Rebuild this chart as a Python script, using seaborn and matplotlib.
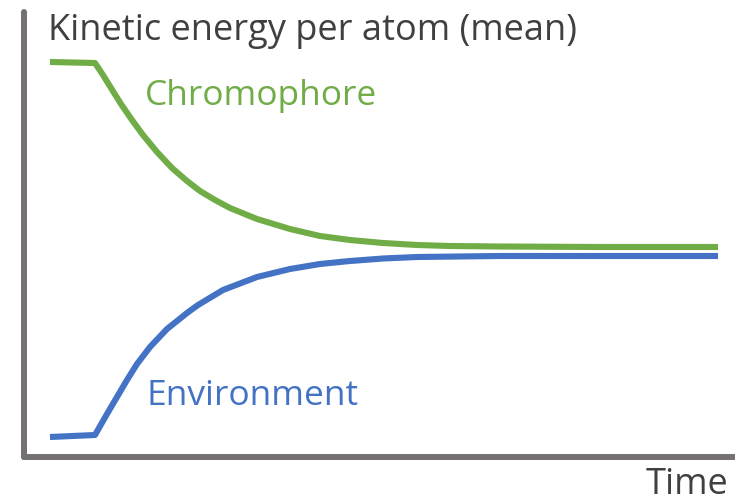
import matplotlib
matplotlib.use("Agg")
import matplotlib.pyplot as plt
import seaborn as sns
import pandas as pd

# Mean kinetic energy per atom over time (arbitrary units)
chromophore_time = [-0.45, 0.00, 0.08, 0.16, 0.26, 0.37, 0.48, 0.62, 0.77, 0.92,
                    1.05, 1.20, 1.35, 1.62, 1.95, 2.25, 2.55, 2.88, 3.22, 3.55,
                    4.05, 5.05, 6.23]
chromophore_energy = [3.95, 3.94, 3.82, 3.69, 3.53, 3.37, 3.22, 3.05, 2.89, 2.76,
                      2.66, 2.57, 2.49, 2.38, 2.28, 2.21, 2.17, 2.14, 2.12, 2.11,
                      2.105, 2.10, 2.10]

environment_time = [-0.45, 0.00, 0.12, 0.22, 0.32, 0.42, 0.55, 0.72, 0.92, 1.03,
                    1.28, 1.62, 1.95, 2.25, 2.55, 2.88, 3.22, 4.05, 6.23]
environment_energy = [0.20, 0.22, 0.43, 0.60, 0.77, 0.93, 1.10, 1.28, 1.44, 1.52,
                      1.67, 1.80, 1.88, 1.93, 1.96, 1.985, 2.00, 2.01, 2.01]

series_names = ["Chromophore", "Environment"]
series_colors = ["#70AD47", "#4472C4"]
axis_color = "#767171"
text_color = "#404040"

df = pd.concat([
    pd.DataFrame({"time": chromophore_time, "energy": chromophore_energy,
                  "series": series_names[0]}),
    pd.DataFrame({"time": environment_time, "energy": environment_energy,
                  "series": series_names[1]}),
])

sns.set_theme(style="white")
plt.rcParams["font.family"] = ["Open Sans", "DejaVu Sans"]

W, H = 735, 503
fig = plt.figure(figsize=(W / 100, H / 100), dpi=100)
ax = fig.add_axes([24 / W, (H - 457) / H, (W - 24) / W, (457 - 12) / H])

sns.lineplot(data=df, x="time", y="energy", hue="series", palette=series_colors,
             sort=False, estimator=None, linewidth=4.4, legend=False, ax=ax)
for line in ax.lines:
    line.set_solid_capstyle("butt")
    line.set_solid_joinstyle("round")

ax.set_xlim(-0.71, 6.40)
ax.set_ylim(0, 4.45)
ax.set_xticks([])
ax.set_yticks([])
ax.set_xlabel("")
ax.set_ylabel("")
for side in ("top", "right"):
    ax.spines[side].set_visible(False)
for side in ("left", "bottom"):
    ax.spines[side].set_color(axis_color)
    ax.spines[side].set_linewidth(4.3)
    ax.spines[side].set_capstyle("round")


def px_text(x, y, s, color, size, ha="left"):
    fig.text(x / W, 1 - y / H, s, color=color, fontsize=size, ha=ha, va="baseline")


px_text(48, 40, "Kinetic energy per atom (mean)", text_color, 26)
px_text(145, 105, series_names[0], series_colors[0], 25.5)
px_text(147, 405, series_names[1], series_colors[1], 25.5)
px_text(728, 494, "Time", text_color, 26, ha="right")

fig.savefig("out.png", dpi=100)
